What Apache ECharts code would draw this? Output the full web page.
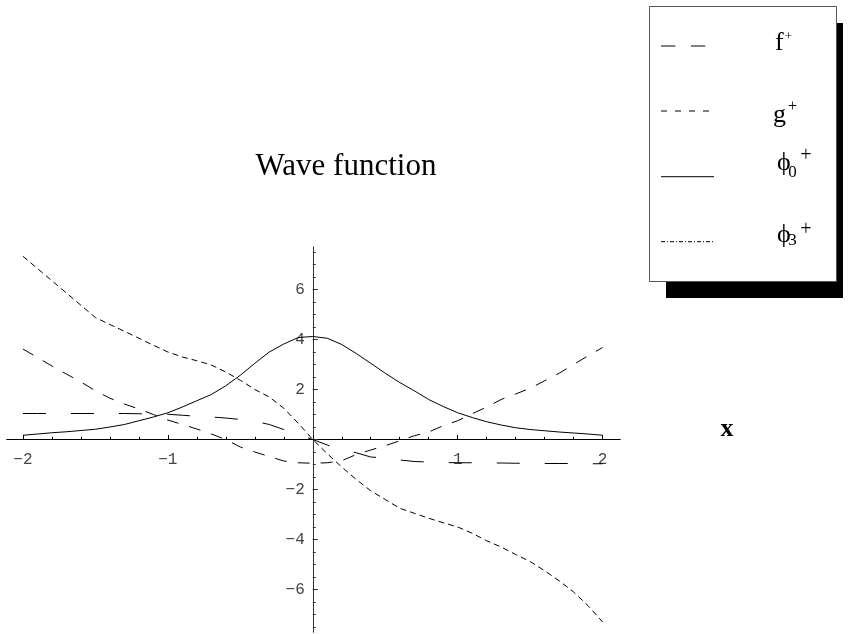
<!DOCTYPE html>
<html>
<head>
<meta charset="utf-8">
<script src="https://cdn.jsdelivr.net/npm/echarts@6/dist/echarts.min.js"></script>
<style>
html, body { margin: 0; padding: 0; background: #fff; }
#main { width: 849px; height: 634px; }
</style>
</head>
<body>
<div id="main"></div>
<script>
// sample points
var xs = [-2, -1.9, -1.8, -1.7, -1.6, -1.5, -1.4, -1.3, -1.2, -1.1, -1, -0.9, -0.8, -0.7, -0.6, -0.5, -0.4, -0.3, -0.2, -0.1,
    0, 0.1, 0.2, 0.3, 0.4, 0.5, 0.6, 0.7, 0.8, 0.9, 1, 1.1, 1.2, 1.3, 1.4, 1.5, 1.6, 1.7, 1.8, 1.9, 2];
var fPlus = [1.04, 1.04, 1.04, 1.04, 1.04, 1.04, 1.04, 1.04, 1.03, 1.02, 1.01, 0.97, 0.93, 0.9, 0.86, 0.8, 0.73, 0.6, 0.4, 0.2,
    0, -0.22, -0.42, -0.53, -0.7, -0.74, -0.82, -0.88, -0.9, -0.92, -0.93, -0.93, -0.94, -0.94, -0.95, -0.95, -0.96, -0.96, -0.96, -0.97, -0.97];
var gPlus = [3.62, 3.28, 2.94, 2.62, 2.3, 1.95, 1.65, 1.42, 1.22, 1.0, 0.78, 0.6, 0.42, 0.22, 0.0, -0.3, -0.5, -0.68, -0.86, -0.93,
    -0.95, -0.93, -0.85, -0.6, -0.42, -0.25, -0.05, 0.15, 0.3, 0.55, 0.75, 1.03, 1.3, 1.6, 1.82, 2.05, 2.35, 2.65, 3.0, 3.35, 3.68];
var phi0 = [0.17, 0.22, 0.27, 0.31, 0.36, 0.41, 0.5, 0.6, 0.75, 0.9, 1.07, 1.3, 1.55, 1.8, 2.15, 2.57, 3.05, 3.5, 3.82, 4.08,
    4.12, 4.05, 3.8, 3.44, 3.05, 2.65, 2.28, 1.95, 1.6, 1.32, 1.07, 0.88, 0.71, 0.58, 0.47, 0.4, 0.35, 0.3, 0.26, 0.22, 0.17];
var phi3 = [7.33, 6.84, 6.35, 5.86, 5.37, 4.88, 4.6, 4.33, 4.05, 3.77, 3.5, 3.3, 3.15, 2.98, 2.7, 2.37, 2.0, 1.7, 1.25, 0.65,
    0, -0.57, -1.1, -1.6, -2.05, -2.4, -2.75, -2.95, -3.15, -3.33, -3.5, -3.75, -4.05, -4.3, -4.6, -4.88, -5.25, -5.65, -6.1, -6.65, -7.3];

// ticks and labels
var xMinorTicks = [-2, -1.8, -1.6, -1.4, -1.2, -1, -0.8, -0.6, -0.4, -0.2, 0, 0.2, 0.4, 0.6, 0.8, 1, 1.2, 1.4, 1.6, 1.8, 2];
var xMajorTicks = [-2, -1, 0, 1, 2];
var xLabels = [-2, -1, 1, 2];
var yMinorTicks = [-7.5, -7, -6.5, -6, -5.5, -5, -4.5, -4, -3.5, -3, -2.5, -2, -1.5, -1, -0.5, 0,
    0.5, 1, 1.5, 2, 2.5, 3, 3.5, 4, 4.5, 5, 5.5, 6, 6.5, 7, 7.5];
var yMajorTicks = [-6, -4, -2, 0, 2, 4, 6];
var yLabels = [-6, -4, -2, 2, 4, 6];

// legend
var legendBase = ['f', 'g', '\u03d5', '\u03d5'];
var legendSub = ['', '', '0', '3'];

var X_MIN = -2.11, X_MAX = 2.12, Y_MIN = -7.7, Y_MAX = 7.7;
// plot box and where the zero lines fall inside it
var PLOT = { left: 7, top: 247, width: 613, height: 385 };
var zeroX = PLOT.left + (0 - X_MIN) / (X_MAX - X_MIN) * PLOT.width;
var zeroY = PLOT.top + (Y_MAX - 0) / (Y_MAX - Y_MIN) * PLOT.height;

var chart = echarts.init(document.getElementById('main'));

function pairs(ys) {
    return xs.map(function (x, i) { return [x, ys[i]]; });
}
function minusSign(v) {
    return String(v).replace('-', '\u2212');
}

function lineSeries(name, ys, dash) {
    return {
        name: name,
        type: 'line',
        xAxisIndex: 0,
        yAxisIndex: 0,
        data: pairs(ys),
        showSymbol: false,
        symbol: 'none',
        silent: true,
        lineStyle: { color: '#000', width: 1, type: dash }
    };
}

// axis crossing at the origin: line + ticks only (labels are put on helper grids below)
function tickAxis(min, max, ticks, len, color, extra) {
    return Object.assign({
        type: 'value', gridIndex: 0, min: min, max: max,
        axisLine: { onZero: true, onZeroAxisIndex: 0, lineStyle: { color: color, width: 1 } },
        axisTick: { inside: true, length: len, customValues: ticks, lineStyle: { color: color } },
        axisLabel: { show: false },
        splitLine: { show: false }
    }, extra || {});
}
function labelAxis(grid, min, max, labels, margin, extra) {
    return Object.assign({
        type: 'value', gridIndex: grid, min: min, max: max,
        axisLine: { show: false, onZero: false },
        axisTick: { show: false },
        axisLabel: {
            customValues: labels, margin: margin, formatter: minusSign,
            fontFamily: 'Liberation Mono', fontSize: 16, color: '#444'
        },
        splitLine: { show: false }
    }, extra || {});
}
function hiddenAxis(grid) {
    return { type: 'value', gridIndex: grid, show: false, min: -1, max: 1 };
}

// legend box, drawn by hand (mathematica style with hard shadow)
var legendY = [46, 111, 176.7, 241.7];
var legendDash = [[14.3, 15.7], [6, 8], 'solid', [4, 2, 1, 2]];
var graphics = [
    { type: 'rect', shape: { x: 666, y: 23, width: 177, height: 275 }, style: { fill: '#000' } },
    { type: 'rect', shape: { x: 649.5, y: 6.5, width: 187, height: 275 }, style: { fill: '#fff', stroke: '#555', lineWidth: 1 } },
    { type: 'text', x: 727, y: 429, style: { text: 'x', font: 'bold 26px "Liberation Serif"', fill: '#000', align: 'center', verticalAlign: 'middle' } }
];
legendY.forEach(function (y, i) {
    graphics.push({
        type: 'line',
        shape: { x1: 661, y1: y, x2: i === 0 ? 706 : 714, y2: y },
        style: { stroke: '#000', lineWidth: 1, lineDash: legendDash[i] === 'solid' ? null : legendDash[i] }
    });
});
var baseX = [775, 773, 777, 777];
var baseMid = [43.3, 115.5, 162.9, 234.9];
var plusX = [788.3, 792.5, 806, 806];
var plusMid = [36.4, 106.9, 155.8, 229.3];
var plusSize = [13, 16, 20, 20];
var subMid = [0, 0, 172.5, 241];
legendBase.forEach(function (t, i) {
    graphics.push({
        type: 'text', x: baseX[i], y: baseMid[i],
        style: { text: t, font: '26px "Liberation Serif"', fill: '#000', align: 'left', verticalAlign: 'middle' }
    });
    if (legendSub[i]) {
        graphics.push({
            type: 'text', x: 792.5, y: subMid[i],
            style: { text: legendSub[i], font: '17px "Liberation Serif"', fill: '#000', align: 'center', verticalAlign: 'middle' }
        });
    }
    graphics.push({
        type: 'text', x: plusX[i], y: plusMid[i],
        style: { text: '+', font: plusSize[i] + 'px "Liberation Serif"', fill: '#000', align: 'center', verticalAlign: 'middle' }
    });
});

var option = {
    animation: false,
    backgroundColor: '#fff',
    title: {
        text: 'Wave function',
        left: 346,
        top: 151,
        padding: 0,
        textAlign: 'center',
        textStyle: { fontFamily: 'Liberation Serif', fontSize: 31, fontWeight: 'normal', color: '#000' }
    },
    grid: [
        // main plot
        { left: PLOT.left, top: PLOT.top, width: PLOT.width, height: PLOT.height, containLabel: false, outerBoundsMode: 'none' },
        // x labels: bottom edge sits on y = 0
        { left: PLOT.left, top: PLOT.top, width: PLOT.width, height: zeroY - PLOT.top, containLabel: false, outerBoundsMode: 'none' },
        // y labels: left edge sits on x = 0
        { left: zeroX, top: PLOT.top, width: PLOT.left + PLOT.width - zeroX, height: PLOT.height, containLabel: false, outerBoundsMode: 'none' }
    ],
    xAxis: [
        tickAxis(X_MIN, X_MAX, xMajorTicks, 4.5, '#000'),
        tickAxis(X_MIN, X_MAX, xMinorTicks, 2.7, '#000', { position: 'bottom' }),
        labelAxis(1, X_MIN, X_MAX, xLabels, 12, { position: 'bottom' }),
        hiddenAxis(2)
    ],
    yAxis: [
        tickAxis(Y_MIN, Y_MAX, yMajorTicks, 5, '#333'),
        tickAxis(Y_MIN, Y_MAX, yMinorTicks, 3, '#333', { position: 'left' }),
        hiddenAxis(1),
        labelAxis(2, Y_MIN, Y_MAX, yLabels, 8, { position: 'left' })
    ],
    graphic: graphics,
    series: [
        lineSeries('f+', fPlus, [23, 25]),
        lineSeries('g+', gPlus, [12, 11]),
        lineSeries('phi0+', phi0, 'solid'),
        lineSeries('phi3+', phi3, [6, 4])
    ]
};
chart.setOption(option);
</script>
</body>
</html>
